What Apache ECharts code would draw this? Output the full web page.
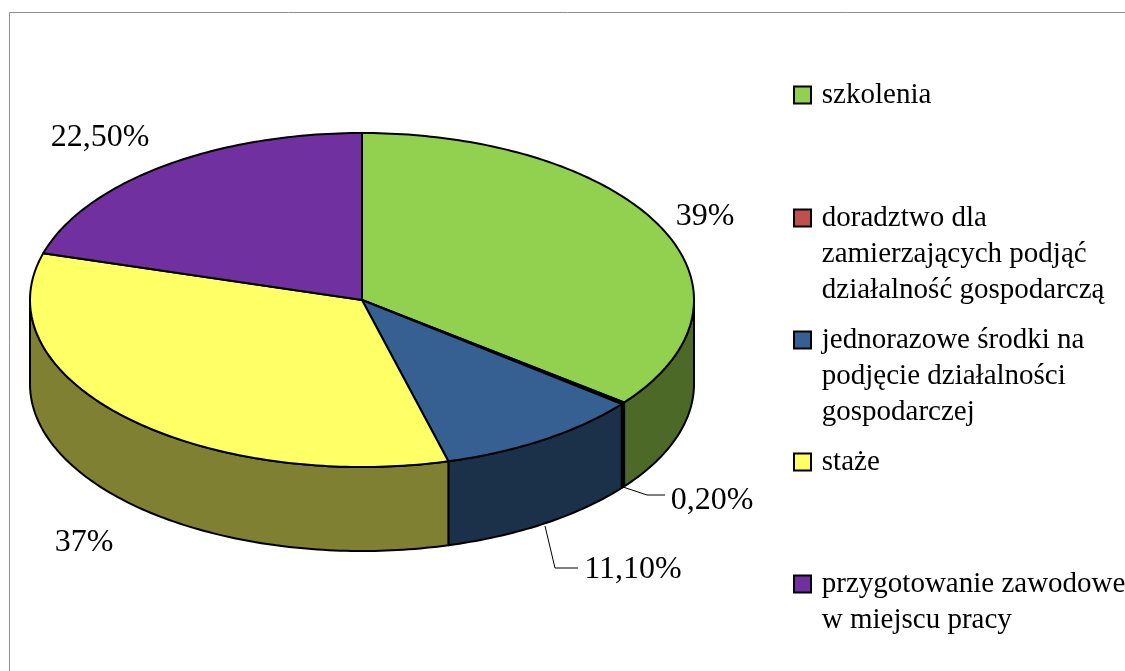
<!DOCTYPE html>
<html style="height: 100%">
<head>
	<meta charset="utf-8">
</head>
<body style="height: 100%; margin: 0; background: #fff">
<div id="container" style="width: 1125px; height: 671px"></div>
<script type="text/javascript" src="https://cdn.jsdelivr.net/npm/echarts@6/dist/echarts.min.js"></script>
<script type="text/javascript">
    var categories = ["szkolenia", "doradztwo dla zamierzających podjąć działalność gospodarczą", "jednorazowe środki na podjęcie działalności gospodarczej", "staże", "przygotowanie zawodowe w miejscu pracy"];
    var legendLines = [
        ["szkolenia"],
        ["doradztwo dla", "zamierzających podjąć", "działalność gospodarczą"],
        ["jednorazowe środki na", "podjęcie działalności", "gospodarczej"],
        ["staże"],
        ["przygotowanie zawodowe", "w miejscu pracy"]
    ];
    var values = [39, 0.2, 11.1, 37, 22.5];
    var valueLabels = ["39%", "0,20%", "11,10%", "37%", "22,50%"];

    var topColors = ['#92d050', '#c0504d', '#366092', '#ffff66', '#7030a0'];
    var sideColors = ['#4c6928', '#602826', '#1b3049', '#808033', '#381850'];

    // pie geometry in pixels
    var cx = 362, cy = 300, rx = 332, ry = 167, depth = 84;
    var labelCenters = [[705, 217], [712, 501], [633, 570], [84, 543], [100, 138]];
    var legendCenters = [95, 218, 340, 462, 584];
    var leaders = [null, [[623, 487], [647, 495], [665, 495]], [[545, 526], [555, 568], [578, 568]], null, null];

    var lineHeight = 36;
    var total = values.reduce(function (a, b) { return a + b; }, 0);

    function rimPoint(deg, dy) {
        var t = deg * Math.PI / 180;
        return [cx + rx * Math.sin(t), cy - ry * Math.cos(t) + dy];
    }

    function arcPoints(from, to, dy) {
        var pts = [];
        var n = Math.max(2, Math.ceil(Math.abs(to - from)));
        for (var i = 0; i <= n; i++) {
            pts.push(rimPoint(from + (to - from) * i / n, dy));
        }
        return pts;
    }

    function makeRender(idx, start, end) {
        return function () {
            var children = [];
            // outer wall, only the front half of the rim shows
            var a = Math.max(start, 90), b = Math.min(end, 270);
            if (b > a) {
                children.push({
                    type: 'polygon',
                    shape: { points: arcPoints(a, b, 0).concat(arcPoints(b, a, depth)) },
                    style: { fill: sideColors[idx], stroke: '#000', lineWidth: 2, lineJoin: 'round' }
                });
            }
            children.push({
                type: 'polygon',
                shape: { points: [[cx, cy]].concat(arcPoints(start, end, 0)) },
                style: { fill: topColors[idx], stroke: '#000', lineWidth: 2, lineJoin: 'round' }
            });
            children.push({
                type: 'text',
                style: {
                    text: valueLabels[idx],
                    x: labelCenters[idx][0],
                    y: labelCenters[idx][1],
                    align: 'center',
                    verticalAlign: 'middle',
                    fill: '#000',
                    font: '32px "Liberation Serif"'
                }
            });
            if (leaders[idx]) {
                children.push({
                    type: 'polyline',
                    shape: { points: leaders[idx] },
                    style: { fill: null, stroke: '#000', lineWidth: 1 }
                });
            }
            return { type: 'group', children: children };
        };
    }

    // legend centres its icon on the text block, so blank lines in front
    // of the text keep the icon level with the first line
    function legendText(lines) {
        var blanks = [];
        for (var i = 1; i < lines.length; i++) blanks.push('');
        return blanks.concat(lines.map(function (s) { return '\u2009' + s; })).join('\n');
    }

    var series = [];
    var legends = [];
    var sum = 0;
    for (var i = 0; i < values.length; i++) {
        var start = sum / total * 360;
        sum += values[i];
        var end = sum / total * 360;
        series.push({
            type: 'custom',
            name: categories[i],
            coordinateSystem: 'none',
            silent: true,
            animation: false,
            itemStyle: { color: topColors[i] },
            data: [values[i]],
            renderItem: makeRender(i, start, end)
        });
        legends.push({
            data: [categories[i]],
            left: 793,
            top: legendCenters[i] - (2 * legendLines[i].length - 1) * lineHeight / 2,
            padding: 0,
            selectedMode: false,
            icon: 'rect',
            itemWidth: 17,
            itemHeight: 17,
            itemGap: 0,
            itemStyle: { borderColor: '#000', borderWidth: 2 },
            formatter: (function (k) {
                return function () { return legendText(legendLines[k]); };
            })(i),
            textStyle: {
                color: '#000',
                fontFamily: 'Liberation Serif',
                fontSize: 29,
                lineHeight: lineHeight
            }
        });
    }

    var myChart = echarts.init(document.getElementById('container'));
    myChart.setOption({
        backgroundColor: '#fff',
        animation: false,
        legend: legends,
        graphic: [{
            type: 'rect',
            silent: true,
            shape: { x: 9.5, y: 12.5, width: 1300, height: 800 },
            style: { fill: null, stroke: '#8e8e8e', lineWidth: 1 }
        }],
        series: series
    });
</script>
</body>
</html>
